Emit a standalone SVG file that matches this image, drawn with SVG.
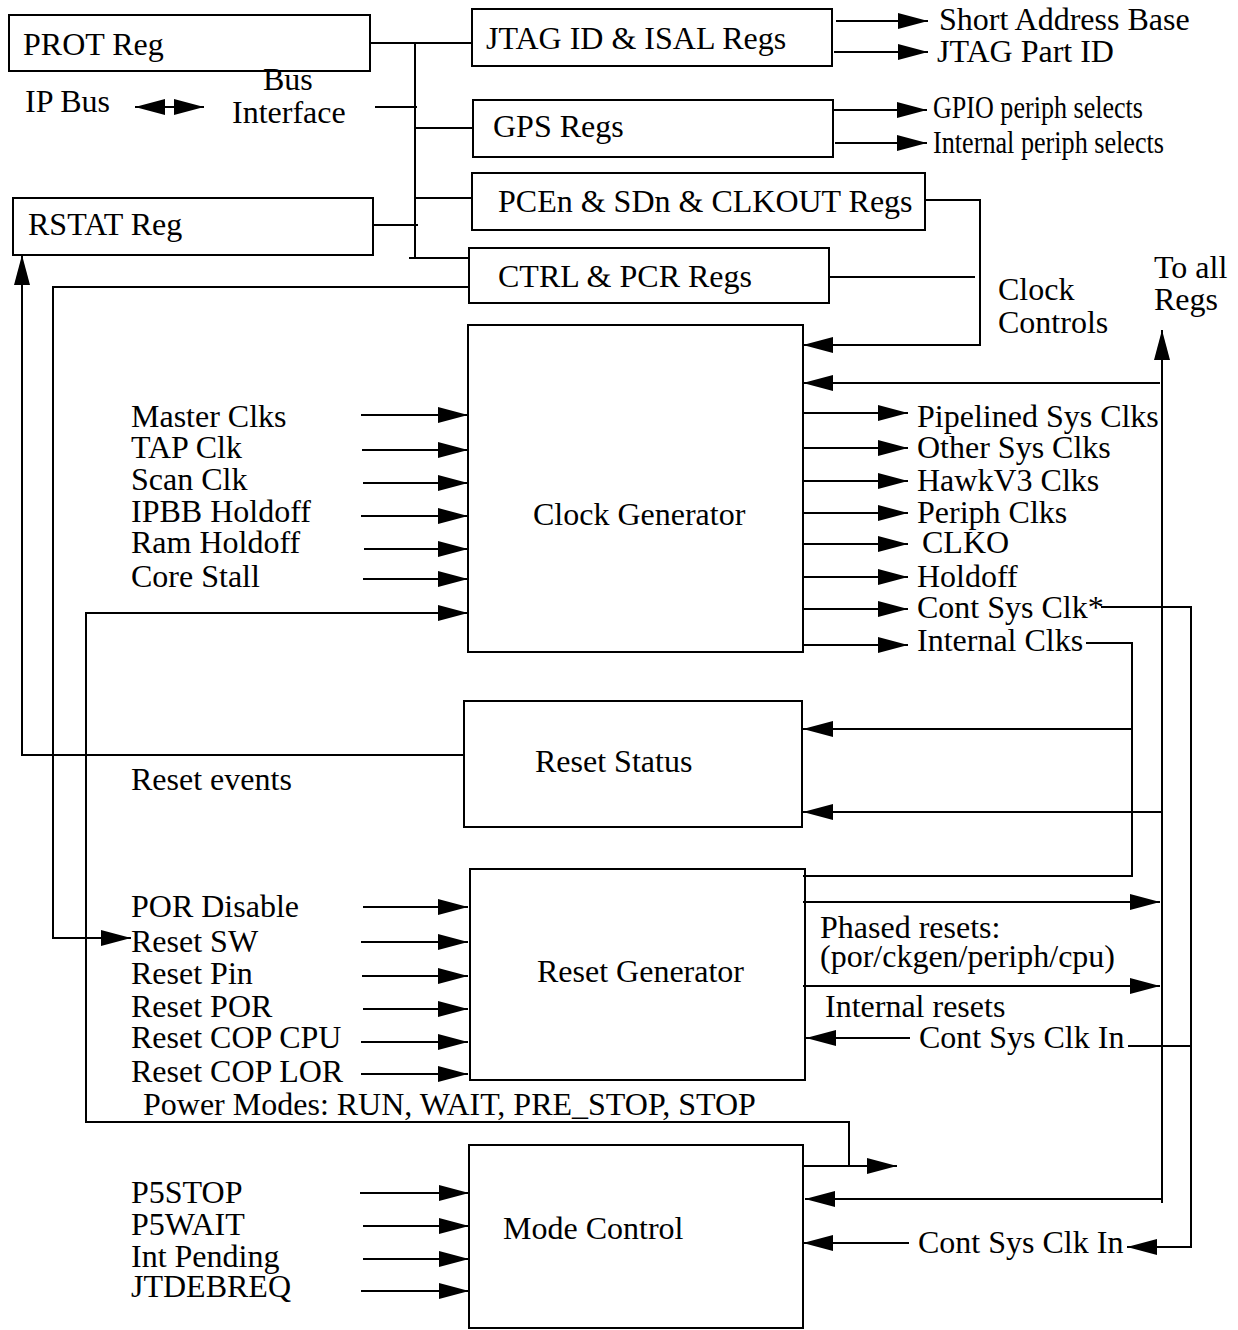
<svg xmlns="http://www.w3.org/2000/svg" width="1238" height="1330" viewBox="0 0 1238 1330">
<style>
.box{fill:none;stroke:#000;stroke-width:2}
.ln{fill:none;stroke:#000;stroke-width:2}
.ar{marker-end:url(#ah)}
.ar2{marker-start:url(#ah);marker-end:url(#ah)}
text{font-family:"Liberation Serif","Times New Roman",serif;font-size:32px;fill:#000}
</style>
<defs>
<marker id="ah" viewBox="0 0 30 16" refX="30" refY="8" markerWidth="30" markerHeight="16" markerUnits="userSpaceOnUse" orient="auto-start-reverse">
<path d="M0,0 L30,8 L0,16 z" fill="#000"/>
</marker>
</defs>
<rect width="1238" height="1330" fill="#fff"/>

<g id="prot-reg"><rect class="box" x="9" y="15" width="361" height="56"/><text x="23" y="55">PROT Reg</text></g>
<g id="rstat-reg"><rect class="box" x="13" y="198" width="360" height="57"/><text x="28" y="235">RSTAT Reg</text></g>
<g id="bus-interface"><text x="263" y="90">Bus</text><text x="232" y="123">Interface</text></g>
<g id="ip-bus"><text x="25" y="112">IP Bus</text></g>
<g id="jtag-regs"><rect class="box" x="472" y="9" width="360" height="57"/><text x="486" y="49">JTAG ID &amp; ISAL Regs</text></g>
<g id="gps-regs"><rect class="box" x="473" y="100" width="360" height="57"/><text x="493" y="137">GPS Regs</text></g>
<g id="pcen-regs"><rect class="box" x="472" y="173" width="453" height="57"/><text x="498" y="212">PCEn &amp; SDn &amp; CLKOUT Regs</text></g>
<g id="ctrl-regs"><rect class="box" x="469" y="248" width="360" height="55"/><text x="498" y="287">CTRL &amp; PCR Regs</text></g>
<g id="clock-generator"><rect class="box" x="468" y="325" width="335" height="327"/><text x="533" y="525">Clock Generator</text></g>
<g id="reset-status"><rect class="box" x="464" y="701" width="338" height="126"/><text x="535" y="772">Reset Status</text></g>
<g id="reset-generator"><rect class="box" x="470" y="869" width="335" height="211"/><text x="537" y="982">Reset Generator</text></g>
<g id="mode-control"><rect class="box" x="469" y="1145" width="334" height="183"/><text x="503" y="1239">Mode Control</text></g>

<g id="labels">
<text x="939" y="30">Short Address Base</text>
<text x="937" y="62">JTAG Part ID</text>
<text x="933" y="118" textLength="210" lengthAdjust="spacingAndGlyphs">GPIO periph selects</text>
<text x="933" y="153" textLength="231" lengthAdjust="spacingAndGlyphs">Internal periph selects</text>
<text x="998" y="300">Clock</text>
<text x="998" y="333">Controls</text>
<text x="1154" y="278">To all</text>
<text x="1154" y="310">Regs</text>
<text x="131" y="427">Master Clks</text>
<text x="131" y="458">TAP Clk</text>
<text x="131" y="490">Scan Clk</text>
<text x="131" y="522">IPBB Holdoff</text>
<text x="131" y="553">Ram Holdoff</text>
<text x="131" y="587">Core Stall</text>
<text x="917" y="427">Pipelined Sys Clks</text>
<text x="917" y="458">Other Sys Clks</text>
<text x="917" y="491">HawkV3 Clks</text>
<text x="917" y="523">Periph Clks</text>
<text x="922" y="553">CLKO</text>
<text x="917" y="587">Holdoff</text>
<text x="917" y="618">Cont Sys Clk*</text>
<text x="917" y="651">Internal Clks</text>
<text x="131" y="790">Reset events</text>
<text x="131" y="917">POR Disable</text>
<text x="131" y="952">Reset SW</text>
<text x="131" y="984">Reset Pin</text>
<text x="131" y="1017">Reset POR</text>
<text x="131" y="1048">Reset COP CPU</text>
<text x="131" y="1082">Reset COP LOR</text>
<text x="820" y="938">Phased resets:</text>
<text x="820" y="967">(por/ckgen/periph/cpu)</text>
<text x="825" y="1017">Internal resets</text>
<text x="919" y="1048">Cont Sys Clk In</text>
<text x="143" y="1115">Power Modes: RUN, WAIT, PRE_STOP, STOP</text>
<text x="131" y="1203">P5STOP</text>
<text x="131" y="1235">P5WAIT</text>
<text x="131" y="1267">Int Pending</text>
<text x="131" y="1297">JTDEBREQ</text>
<text x="918" y="1253">Cont Sys Clk In</text>
</g>

<g id="connectors">
<path class="ln" d="M370,43 H472 M415,43 V257 M375,107 H417 M415,128 H473 M415,198 H472 M373,225 H418 M409,258 H469"/>
<path class="ln ar2" d="M135,107 H204"/>
<path class="ln ar" d="M836,21 H928"/>
<path class="ln ar" d="M834,52 H928"/>
<path class="ln ar" d="M833,110 H927"/>
<path class="ln ar" d="M835,143 H927"/>
<path class="ln ar" d="M925,200 H980 V345 H803"/>
<path class="ln" d="M829,277 H975"/>
<path class="ln ar" d="M469,287 H53 V938 H131"/>
<path class="ln ar" d="M1162,1203 V330"/>
<path class="ln ar" d="M1160,383 H803"/>
<path class="ln ar" d="M361,415 H468"/>
<path class="ln ar" d="M362,450 H468"/>
<path class="ln ar" d="M363,483 H468"/>
<path class="ln ar" d="M361,516 H468"/>
<path class="ln ar" d="M364,549 H468"/>
<path class="ln ar" d="M363,579 H468"/>
<path class="ln ar" d="M803,413 H908"/>
<path class="ln ar" d="M803,448 H908"/>
<path class="ln ar" d="M803,481 H908"/>
<path class="ln ar" d="M803,513 H908"/>
<path class="ln ar" d="M803,544 H908"/>
<path class="ln ar" d="M803,577 H908"/>
<path class="ln ar" d="M803,609 H908"/>
<path class="ln ar" d="M803,645 H908"/>
<path class="ln ar" d="M1101,607 H1191 V1247 H1127"/>
<path class="ln" d="M1086,643 H1132 V876 H803"/>
<path class="ln ar" d="M1132,729 H803"/>
<path class="ln ar" d="M1162,812 H803"/>
<path class="ln ar" d="M464,755 H22 V255"/>
<path class="ln ar" d="M849,1166 V1122 H86 V613 H468"/>
<path class="ln ar" d="M803,1166 H897"/>
<path class="ln ar" d="M363,907 H468"/>
<path class="ln ar" d="M361,942 H468"/>
<path class="ln ar" d="M362,976 H468"/>
<path class="ln ar" d="M363,1009 H468"/>
<path class="ln ar" d="M361,1042 H468"/>
<path class="ln ar" d="M361,1074 H468"/>
<path class="ln ar" d="M803,902 H1160"/>
<path class="ln ar" d="M803,986 H1160"/>
<path class="ln ar" d="M910,1038 H806"/>
<path class="ln" d="M1128,1046 H1191"/>
<path class="ln ar" d="M1162,1199 H805"/>
<path class="ln ar" d="M909,1243 H803"/>
<path class="ln ar" d="M360,1193 H469"/>
<path class="ln ar" d="M363,1226 H469"/>
<path class="ln ar" d="M363,1259 H469"/>
<path class="ln ar" d="M361,1291 H469"/>
</g>
</svg>
